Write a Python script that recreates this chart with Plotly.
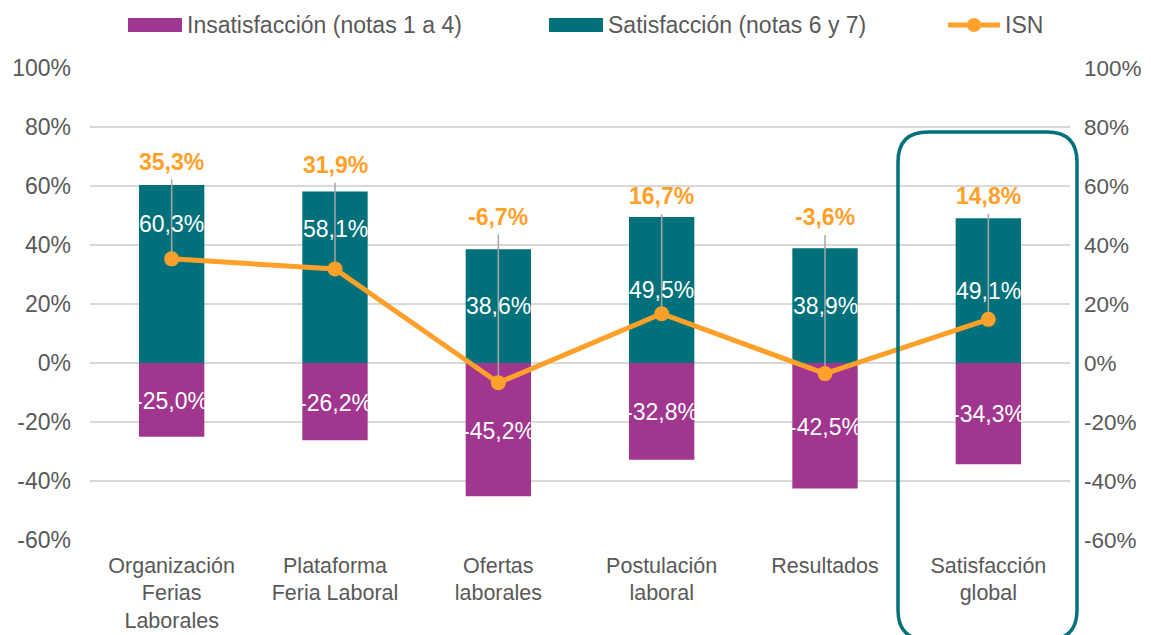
import plotly.graph_objects as go

# ---------------- data ----------------
categories = ["Organización<br>Ferias<br>Laborales", "Plataforma<br>Feria Laboral",
              "Ofertas<br>laborales", "Postulación<br>laboral", "Resultados",
              "Satisfacción<br>global"]
insatisfaccion = [-25.0, -26.2, -45.2, -32.8, -42.5, -34.3]
satisfaccion = [60.3, 58.1, 38.6, 49.5, 38.9, 49.1]
isn = [35.3, 31.9, -6.7, 16.7, -3.6, 14.8]
y_ticks = [-60, -40, -20, 0, 20, 40, 60, 80, 100]

# ---------------- style / layout ----------------
OFF = 8                      # default page body margin
W, H = 1151 - OFF, 635 - OFF
PL, PR, PT, PB = 90, 1070, 68, 540   # plot area in page pixels
ML, MR, MT, MB = PL - OFF, W - (PR - OFF), PT - OFF, H - (PB - OFF)
TEAL = "#00717A"
PURPLE = "#A1368F"
ORANGE = "#FFA02A"
GRAY_TXT = "#595959"
FONT = "Liberation Sans, Arial, sans-serif"
FS = 23
isn_label_pad = [8, 9, 11, 7, 10.5, 7.5]        # label offset above satisfaction bar
sat_label_override = {0: 47.0, 1: 45.5}          # labels moved to avoid the ISN marker

pw = PR - PL
ph = PB - PT


def px2x(px):
    return (px - PL) / pw


def px2y(py):
    return (PB - py) / ph


def fmt(v):
    return f"{v:.1f}".replace(".", ",") + "%"


fig = go.Figure()

fig.add_trace(go.Bar(x=categories, y=insatisfaccion, name="Insatisfacción (notas 1 a 4)",
                     marker=dict(color=PURPLE, line=dict(width=0)), width=0.4,
                     showlegend=False, hoverinfo="skip"))
fig.add_trace(go.Bar(x=categories, y=satisfaccion, name="Satisfacción (notas 6 y 7)",
                     marker=dict(color=TEAL, line=dict(width=0)), width=0.4,
                     showlegend=False, hoverinfo="skip"))

# leader lines from ISN labels down to ISN points
label_y = [s + p for s, p in zip(satisfaccion, isn_label_pad)]
lx, ly = [], []
for c, top, v in zip(categories, label_y, isn):
    lx += [c, c, None]
    ly += [top - 6, v, None]
fig.add_trace(go.Scatter(x=lx, y=ly, mode="lines", line=dict(color="#A6A6A6", width=1.5),
                         showlegend=False, hoverinfo="skip", yaxis="y2"))

fig.add_trace(go.Scatter(x=categories, y=isn, name="ISN", mode="lines+markers",
                         line=dict(color=ORANGE, width=5),
                         marker=dict(color=ORANGE, size=15),
                         showlegend=False, hoverinfo="skip", yaxis="y2"))

annotations = []
# white data labels inside bars
for i, (c, v) in enumerate(zip(categories, satisfaccion)):
    annotations.append(dict(x=c, y=sat_label_override.get(i, v / 2), text=fmt(v),
                            showarrow=False, font=dict(color="white", size=FS, family=FONT),
                            xref="x", yref="y"))
for c, v in zip(categories, insatisfaccion):
    annotations.append(dict(x=c, y=v / 2 - 0.3, text=fmt(v), showarrow=False,
                            font=dict(color="white", size=FS, family=FONT),
                            xref="x", yref="y"))
# ISN labels
for c, v, ty in zip(categories, isn, label_y):
    annotations.append(dict(x=c, y=ty, text=f"<b>{fmt(v)}</b>", showarrow=False,
                            font=dict(color=ORANGE, size=FS, family=FONT),
                            xref="x", yref="y"))

# custom legend
shapes = []
legend_y = 25
shapes.append(dict(type="rect", xref="paper", yref="paper",
                   x0=px2x(128), x1=px2x(182), y0=px2y(32), y1=px2y(18),
                   fillcolor=PURPLE, line=dict(width=0)))
shapes.append(dict(type="rect", xref="paper", yref="paper",
                   x0=px2x(549), x1=px2x(603), y0=px2y(32), y1=px2y(18),
                   fillcolor=TEAL, line=dict(width=0)))
shapes.append(dict(type="line", xref="paper", yref="paper",
                   x0=px2x(948), x1=px2x(1000), y0=px2y(legend_y), y1=px2y(legend_y),
                   line=dict(color=ORANGE, width=5)))
shapes.append(dict(type="circle", xref="paper", yref="paper",
                   x0=px2x(967), x1=px2x(981), y0=px2y(32), y1=px2y(18),
                   fillcolor=ORANGE, line=dict(width=0)))
for txt, xpx in [("Insatisfacción (notas 1 a 4)", 185),
                 ("Satisfacción (notas 6 y 7)", 606),
                 ("ISN", 1003)]:
    annotations.append(dict(x=px2x(xpx), y=px2y(legend_y), xref="paper", yref="paper",
                            text=txt, showarrow=False, xanchor="left", yanchor="middle",
                            font=dict(color=GRAY_TXT, size=FS, family=FONT)))

# rounded highlight box around "Satisfacción global"
bx0, bx1, by0, by1 = px2x(898), px2x(1077), px2y(640), px2y(132)
rx, ry = 30 / pw, 30 / ph
path = (f"M {bx0 + rx},{by1} L {bx1 - rx},{by1} Q {bx1},{by1} {bx1},{by1 - ry} "
        f"L {bx1},{by0 + ry} Q {bx1},{by0} {bx1 - rx},{by0} "
        f"L {bx0 + rx},{by0} Q {bx0},{by0} {bx0},{by0 + ry} "
        f"L {bx0},{by1 - ry} Q {bx0},{by1} {bx0 + rx},{by1} Z")
shapes.append(dict(type="path", xref="paper", yref="paper", path=path,
                   line=dict(color=TEAL, width=3.5), fillcolor="rgba(0,0,0,0)"))

yaxis_common = dict(range=[-60, 100], tickvals=y_ticks, ticktext=[f"{v}%" for v in y_ticks],
                    zeroline=False, showline=False, ticks="", fixedrange=True,
                    automargin=False)

fig.update_layout(
    width=W, height=H,
    margin=dict(l=ML, r=MR, t=MT, b=MB, autoexpand=False),
    paper_bgcolor="white", plot_bgcolor="white",
    barmode="relative",
    showlegend=False,
    font=dict(family=FONT, color=GRAY_TXT, size=FS),
    xaxis=dict(tickfont=dict(color=GRAY_TXT, size=21.5, family=FONT), showgrid=False,
               zeroline=False, showline=False, ticks="", ticklabelstandoff=10,
               automargin=False),
    yaxis=dict(**yaxis_common, tickfont=dict(color=GRAY_TXT, size=FS, family=FONT),
               showgrid=True, gridcolor="#D9D9D9", gridwidth=1.5, ticklabelstandoff=18),
    yaxis2=dict(**yaxis_common, tickfont=dict(color=GRAY_TXT, size=22.5, family=FONT),
                overlaying="y", side="right", showgrid=False, ticklabelstandoff=13),
    annotations=annotations,
    shapes=shapes,
)

fig.write_html("out.html")
